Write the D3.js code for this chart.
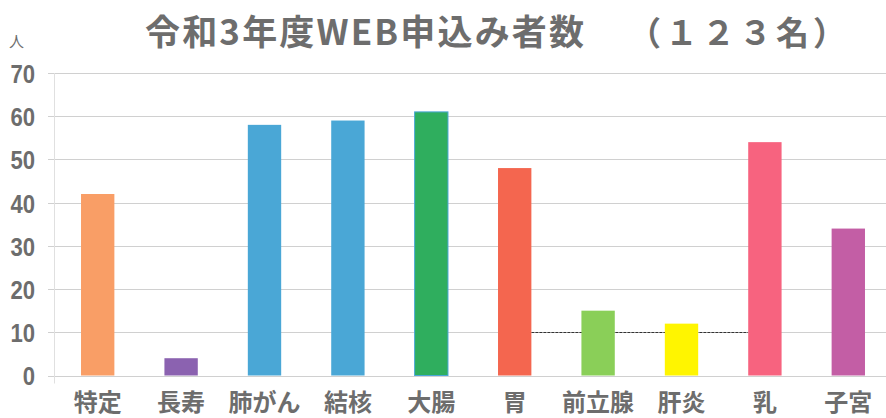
<!DOCTYPE html>
<html><head><meta charset="utf-8">
<script src="https://cdn.jsdelivr.net/npm/d3@7"></script>
<style>
html,body{margin:0;padding:0;background:#fff;}
svg{display:block;}
</style></head>
<body>
<svg id="chart" width="886" height="418"></svg>
<script>
const categories = ["特定","長寿","肺がん","結核","大腸","胃","前立腺","肝炎","乳","子宮"];
const values = [42, 4, 58, 59, 61, 48, 15, 12, 54, 34];
const colors = ["#F99E66","#8B62B0","#4AA7D6","#4AA7D6","#2FAE5E","#F4664F","#8ACF58","#FFF500","#F7637F","#C35EA5"];
const yTicks = [0,10,20,30,40,50,60,70];
const titleMain = "令和3年度WEB申込み者数";
const titleCount = "（１２３名）";
const unitLabel = "人";

const svg = d3.select("#chart");
const W = 886, H = 418;
const mLeft = 56, mRight = 890, mTop = 73, mBottom = 375.5;

const x = d3.scaleBand().domain(categories).range([mLeft, mRight]).paddingInner(0.6).paddingOuter(0.3);
const y = d3.scaleLinear().domain([0, 70]).range([mBottom, mTop]);

const grey = "#6d6d6d";

// gridlines
svg.append("g").selectAll("line").data(yTicks).join("line")
  .attr("x1", 48).attr("x2", W)
  .attr("y1", d => Math.round(y(d)) + 0.5).attr("y2", d => Math.round(y(d)) + 0.5)
  .attr("stroke", "#d0d0d0").attr("stroke-width", 1);

// y axis line
svg.append("line")
  .attr("x1", mLeft - 1.5).attr("x2", mLeft - 1.5)
  .attr("y1", y(70)).attr("y2", y(0) + 8)
  .attr("stroke", "#e0e0e0").attr("stroke-width", 1);

// dark dashed segment on the 10 gridline between 胃 and 乳
svg.append("line")
  .attr("x1", x("胃") + x.bandwidth()).attr("x2", x("乳"))
  .attr("y1", Math.round(y(10)) + 0.5).attr("y2", Math.round(y(10)) + 0.5)
  .attr("stroke", "#333").attr("stroke-width", 1).attr("stroke-dasharray", "3,1");

// bars
svg.append("g").selectAll("rect").data(categories).join("rect")
  .attr("x", d => x(d))
  .attr("width", x.bandwidth())
  .attr("y", (d, i) => y(values[i]))
  .attr("height", (d, i) => y(0) - y(values[i]))
  .attr("fill", (d, i) => colors[i])
  .attr("stroke", d => d === "大腸" ? "#4AA7D6" : "none")
  .attr("stroke-width", 1);

// y axis labels
const yAxis = d3.axisLeft(y).tickValues(yTicks).tickSize(0).tickPadding(0);
const gy = svg.append("g").attr("transform", `translate(35,0)`).call(yAxis);
gy.select(".domain").remove();
gy.selectAll("text")
  .attr("fill", grey)
  .attr("font-family", "'Liberation Sans',Arial,sans-serif")
  .attr("font-weight", "bold")
  .attr("font-size", "26px")
  .attr("dy", "0.36em")
  .attr("transform", "scale(0.85,1)");

// x axis labels
const xAxis = d3.axisBottom(x).tickSize(0).tickPadding(0);
const gx = svg.append("g").attr("transform", `translate(0,${mBottom})`).call(xAxis);
gx.select(".domain").remove();
gx.selectAll("text")
  .attr("fill", grey)
  .attr("font-family", "'Noto Sans CJK JP',sans-serif")
  .attr("font-weight", "bold")
  .attr("font-size", "24px")
  .attr("dy", null)
  .attr("y", 35.5);

// title
svg.append("text")
  .attr("x", 145).attr("y", 45)
  .attr("fill", grey)
  .attr("font-family", "'Noto Sans CJK JP',sans-serif")
  .attr("font-weight", "bold")
  .attr("font-size", "35px")
  .attr("textLength", 439).attr("lengthAdjust", "spacing")
  .text(titleMain);
svg.append("text")
  .attr("x", 628).attr("y", 45)
  .attr("fill", grey)
  .attr("font-family", "'Noto Sans CJK JP',sans-serif")
  .attr("font-weight", "bold")
  .attr("font-size", "33px")
  .attr("letter-spacing", "4px")
  .text(titleCount);

// unit label
svg.append("text")
  .attr("x", 9).attr("y", 47)
  .attr("fill", grey)
  .attr("font-family", "'Noto Sans CJK JP',sans-serif")
  .attr("font-size", "15px")
  .text(unitLabel);
</script>
</body></html>
